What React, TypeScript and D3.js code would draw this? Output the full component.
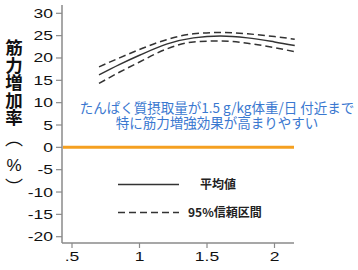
import React from "react";
import * as d3 from "d3";

const xValues = [0.7, 0.85, 1.0, 1.2, 1.4, 1.6, 1.8, 2.0, 2.15];
const meanValues = [16.2, 18.5, 20.6, 23.1, 24.5, 24.9, 24.5, 23.6, 22.8];
const upperValues = [18.0, 20.0, 21.9, 24.1, 25.4, 25.7, 25.4, 24.8, 24.2];
const lowerValues = [14.3, 16.8, 19.1, 22.0, 23.6, 23.8, 23.3, 22.3, 21.4];
const yTicks = [-20, -15, -10, -5, 0, 5, 10, 15, 20, 25, 30];
const xTicks = [0.5, 1, 1.5, 2];
const xTickLabels = [".5", "1", "1.5", "2"];
const titleText = "筋力増加率";
const annotationLines = ["たんぱく質摂取量が1.5 g/kg体重/日 付近まで", "特に筋力増強効果が高まりやすい"];
const legendLabels = ["平均値", "95%信頼区間"];

const W = 358;
const H = 270;

export default function App() {
  const x = d3.scaleLinear().domain([0.5, 2]).range([72, 274.5]);
  const y = d3.scaleLinear().domain([30, -20]).range([13.3, 236.7]);
  const x0 = 62;
  const x1 = 294;
  const yTop = 5;
  const yBot = 243;

  const line = (vals: number[]) =>
    d3
      .line<number>()
      .x((_, i) => x(xValues[i]))
      .y((d) => y(d))
      .curve(d3.curveMonotoneX)(vals) || "";

  const axisColor = "#8a8a8a";
  const tickFont = "'Liberation Sans', Arial, sans-serif";
  const jp = "'Noto Sans CJK JP', sans-serif";
  const sx = 1.4;

  return (
    <svg width={W} height={H} style={{ position: "absolute", left: 0, top: 0 }}>
      <rect width={W} height={H} fill="#fff" />
      {/* y axis */}
      <line x1={x0} x2={x0} y1={yTop} y2={yBot} stroke={axisColor} strokeWidth={1.5} />
      {yTicks.map((t) => (
        <g key={t}>
          <line x1={x0 - 6} x2={x0} y1={y(t)} y2={y(t)} stroke={axisColor} strokeWidth={1.2} />
          <text
            transform={`translate(${x0 - 9},${y(t)}) scale(${sx},1)`}
            dy="0.36em"
            textAnchor="end"
            fontFamily={tickFont}
            fontSize={12.5}
            fill="#111"
          >
            {t}
          </text>
        </g>
      ))}
      {/* x axis */}
      <line x1={x0} x2={x1} y1={yBot} y2={yBot} stroke={axisColor} strokeWidth={1.5} />
      {xTicks.map((t, i) => (
        <g key={t}>
          <line x1={x(t)} x2={x(t)} y1={yBot} y2={yBot + 5} stroke={axisColor} strokeWidth={1.2} />
          <text
            transform={`translate(${x(t)},261) scale(${sx},1)`}
            textAnchor="middle"
            fontFamily={tickFont}
            fontSize={12.5}
            fill="#111"
          >
            {xTickLabels[i]}
          </text>
        </g>
      ))}
      {/* zero line */}
      <line x1={x0 + 1} x2={x1} y1={y(0)} y2={y(0)} stroke="#F5A020" strokeWidth={3} />
      {/* curves */}
      <path d={line(upperValues)} fill="none" stroke="#333" strokeWidth={1.5} strokeDasharray="7,4" />
      <path d={line(lowerValues)} fill="none" stroke="#333" strokeWidth={1.5} strokeDasharray="7,4" />
      <path d={line(meanValues)} fill="none" stroke="#333" strokeWidth={1.5} />
      {/* annotation */}
      <text textAnchor="middle" fontFamily={jp} fontSize={13.5} fill="#3A78D0">
        {annotationLines.map((s, i) => (
          <tspan key={i} x={217} y={113 + i * 15}>
            {s}
          </tspan>
        ))}
      </text>
      {/* legend */}
      <line x1={118} x2={179} y1={184.5} y2={184.5} stroke="#333" strokeWidth={1.5} />
      <text x={200} y={189} fontFamily={jp} fontSize={12} fontWeight="bold" fill="#222">
        {legendLabels[0]}
      </text>
      <line x1={118} x2={179} y1={212.5} y2={212.5} stroke="#333" strokeWidth={1.5} strokeDasharray="7,4" />
      <text x={188} y={217} fontFamily={jp} fontSize={12} fontWeight="bold" fill="#222">
        {legendLabels[1]}
      </text>
      {/* y title */}
      <text
        x={14}
        y={39}
        fontFamily={jp}
        fontSize={17.5}
        fontWeight="bold"
        fill="#111"
        style={{ writingMode: "vertical-rl", textOrientation: "upright" } as any}
      >
        {titleText}
      </text>
      <text x={14} y={139} dy="0.36em" textAnchor="middle" fontFamily={jp} fontSize={18} fill="#111">
        ︵
      </text>
      <text x={14} y={165} dy="0.36em" textAnchor="middle" fontFamily={tickFont} fontSize={17} fill="#111">
        %
      </text>
      <text x={14} y={188} dy="0.36em" textAnchor="middle" fontFamily={jp} fontSize={18} fill="#111">
        ︶
      </text>
    </svg>
  );
}
